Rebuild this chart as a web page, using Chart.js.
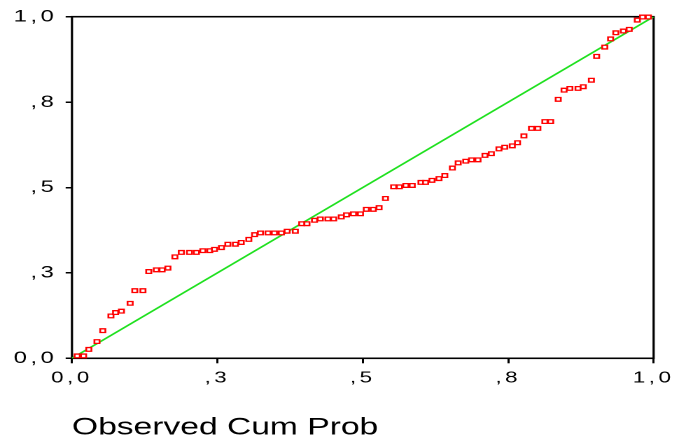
<!DOCTYPE html>
<html>
<head>
<meta charset="utf-8">
<script src="https://cdn.jsdelivr.net/npm/chart.js@4"></script>
<style>
  html, body { margin: 0; padding: 0; background: #ffffff; overflow: hidden; }
  #wrap { width: 483px; height: 440px; transform: scaleX(1.4); transform-origin: 0 0; }
  canvas { display: block; }
</style>
</head>
<body>
<div id="wrap"><canvas id="c" width="483" height="440"></canvas></div>
<script>
// Observed cumulative probability (x) and expected cumulative probability (y)
const observedCumProb = [0.009,0.020,0.029,0.043,0.053,0.067,0.075,0.085,0.100,0.108,
  0.122,0.132,0.145,0.155,0.165,0.177,0.188,0.202,0.214,0.225,
  0.237,0.245,0.257,0.268,0.281,0.291,0.304,0.314,0.324,0.337,
  0.348,0.360,0.370,0.384,0.395,0.404,0.417,0.427,0.440,0.450,
  0.463,0.472,0.484,0.496,0.506,0.518,0.528,0.539,0.553,0.563,
  0.574,0.585,0.600,0.608,0.619,0.631,0.641,0.654,0.664,0.677,
  0.687,0.698,0.710,0.721,0.734,0.744,0.757,0.766,0.777,0.790,
  0.801,0.813,0.823,0.836,0.846,0.856,0.870,0.879,0.893,0.902,
  0.916,0.926,0.935,0.948,0.958,0.972,0.981,0.991];
const expectedCumProb = [0.007,0.007,0.026,0.049,0.081,0.124,0.134,0.138,0.161,0.198,
  0.198,0.254,0.259,0.259,0.264,0.297,0.310,0.310,0.310,0.315,
  0.315,0.319,0.324,0.334,0.334,0.339,0.348,0.362,0.367,0.367,
  0.367,0.367,0.372,0.372,0.394,0.394,0.404,0.408,0.408,0.408,
  0.414,0.420,0.423,0.423,0.436,0.436,0.441,0.468,0.502,0.502,
  0.506,0.506,0.515,0.515,0.521,0.526,0.535,0.557,0.572,0.577,
  0.581,0.581,0.594,0.599,0.613,0.618,0.622,0.631,0.651,0.673,
  0.673,0.693,0.693,0.758,0.785,0.790,0.790,0.795,0.814,0.884,
  0.911,0.935,0.953,0.958,0.963,0.990,0.999,0.999];
// Diagonal reference line endpoints
const refLineX = [0, 1];
const refLineY = [0, 1];
// Tick labels
const xTickLabels = ["0,0", ",3", ",5", ",8", "1,0"];
const yTickLabels = ["0,0", ",3", ",5", ",8", "1,0"];
const xAxisTitle = "Observed Cum Prob";

const FONT = "'Liberation Sans', Arial, Helvetica, sans-serif";

const boxPlugin = {
  id: 'box',
  beforeDatasetsDraw(chart) {
    const a = chart.chartArea, ctx = chart.ctx;
    ctx.save();
    ctx.strokeStyle = '#000';
    ctx.lineWidth = 1.6;
    ctx.strokeRect(a.left, a.top, a.right - a.left, a.bottom - a.top);
    ctx.restore();
  },
  afterDatasetsDraw(chart) { chart.ctx.letterSpacing = '2.5px'; },
  afterDraw(chart) { chart.ctx.letterSpacing = '0px'; }
};

new Chart(document.getElementById('c'), {
  type: 'scatter',
  data: {
    datasets: [
      {
        label: 'points',
        data: observedCumProb.map((x, i) => ({ x: x, y: expectedCumProb[i] })),
        pointStyle: 'rect',
        pointRadius: 2.6,
        pointBorderWidth: 1.3,
        pointBorderColor: '#ff0000',
        pointBackgroundColor: '#ffffff',
        showLine: false,
        clip: false
      },
      {
        label: 'reference',
        data: refLineX.map((x, i) => ({ x: x, y: refLineY[i] })),
        showLine: true,
        borderColor: '#1ee01e',
        borderWidth: 1.5,
        pointRadius: 0
      }
    ]
  },
  options: {
    responsive: false,
    animation: false,
    devicePixelRatio: 2,
    layout: { padding: { top: 16.7, right: 15.1, left: 0, bottom: 0 } },
    plugins: { legend: { display: false }, tooltip: { enabled: false } },
    scales: {
      x: {
        type: 'linear', min: 0, max: 1,
        afterFit: (s) => { s.height = 81.7; },
        border: { display: false },
        grid: { drawOnChartArea: false, drawTicks: true, tickLength: 5, color: '#000', lineWidth: 1.5 },
        ticks: {
          stepSize: 0.25, padding: 5, z: 1, color: '#000', maxRotation: 0,
          font: { family: FONT, size: 16 },
          callback: (v, i) => xTickLabels[i]
        },
        title: {
          display: true, text: xAxisTitle, align: 'start', color: '#000',
          font: { family: FONT, size: 24, lineHeight: 1 },
          padding: { top: 0, bottom: 0 }
        }
      },
      y: {
        type: 'linear', min: 0, max: 1,
        afterFit: (s) => { s.width = 51.4; },
        border: { display: false },
        grid: { drawOnChartArea: false, drawTicks: true, tickLength: 4.5, color: '#000', lineWidth: 1.5 },
        ticks: {
          stepSize: 0.25, padding: 6, z: 1, color: '#000',
          font: { family: FONT, size: 17 },
          callback: (v, i) => yTickLabels[i]
        }
      }
    }
  },
  plugins: [boxPlugin]
});
</script>
</body>
</html>
